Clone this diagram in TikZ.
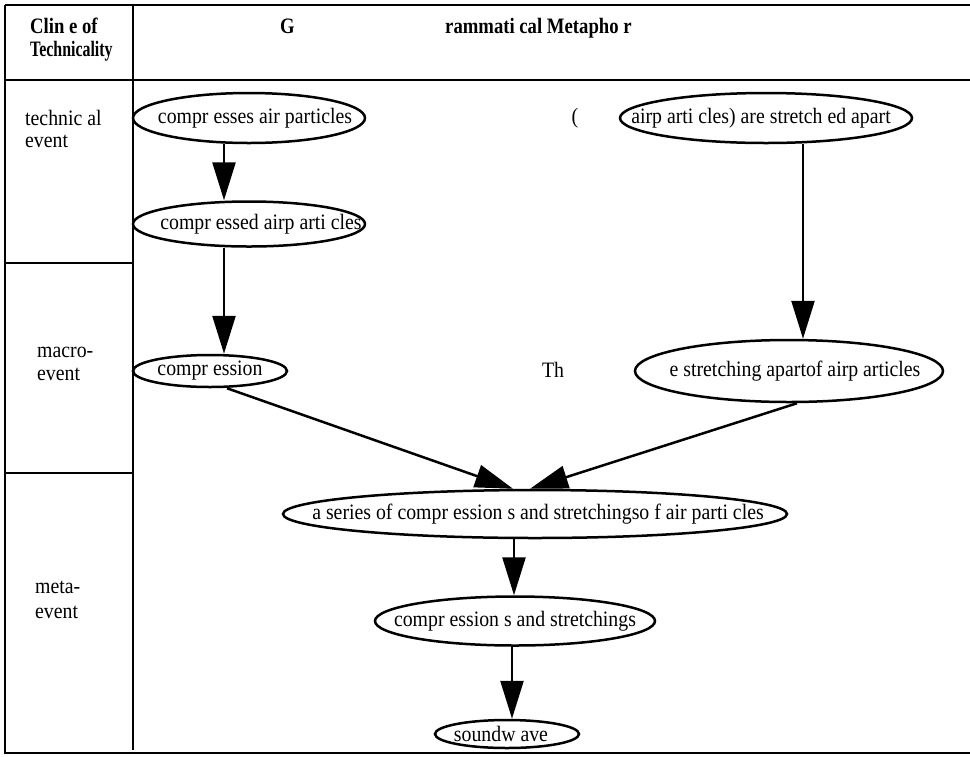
\documentclass[tikz,border=0pt]{standalone}
\usepackage{fontspec}
\usepackage{graphicx}
\setmainfont{Liberation Serif}
\newfontfamily\hdrfont[FakeStretch=0.85]{Liberation Serif}
\newfontfamily\bodyfont[FakeStretch=0.9]{Liberation Serif}
\usetikzlibrary{shapes.geometric,arrows.meta}
\begin{document}
\begin{tikzpicture}[x=1pt,y=-1pt,
  ev/.style={ellipse, draw, line width=2.5pt, inner sep=0pt, font=\bodyfont\fontsize{22}{26}\selectfont},
  conn/.style={line width=2.5pt, -{Triangle[length=38pt,width=23pt]}},
  rulel/.style={line width=2pt},
  lbl/.style={anchor=base west, inner sep=0pt, font=\bodyfont\fontsize{22}{26}\selectfont},
  hdr/.style={anchor=base west, inner sep=0pt, font=\hdrfont\bfseries\fontsize{22}{26}\selectfont},
  loose/.style={inner sep=0pt, font=\bodyfont\fontsize{22}{26}\selectfont}]
\useasboundingbox (0,0) rectangle (970,756);
\fill[white] (0,0) rectangle (970,756);
% table rules
\draw[rulel] (5,5) -- (970,5);
\draw[rulel] (5,5) -- (5,753) -- (970,753);
\draw[rulel] (5,80) -- (970,80);
\draw[rulel] (133,5) -- (133,750);
\draw[rulel] (5,263) -- (133,263);
\draw[rulel] (5,473) -- (133,473);
% header
\node[hdr] (h1) at (30,33) {Clin e of};
\node[hdr] (h2) at (30,56) {\scalebox{0.85}[1]{Technicality}};
\node[hdr] (h3) at (280,33) {G};
\node[hdr] (h4) at (445,33) {rammati cal Metapho r};
% row labels
\node[lbl] (r1a) at (25,125) {technic al};
\node[lbl] (r1b) at (25,147) {event};
\node[lbl] (r2a) at (37,357) {macro-};
\node[lbl] (r2b) at (37,380) {event};
\node[lbl] (r3a) at (35,593) {meta-};
\node[lbl] (r3b) at (35,618) {event};
% ellipses
\node[ev, minimum width=232pt, minimum height=50pt] (e1) at (249,118) {\makebox[0pt]{\hspace{12pt}compr esses air particles}};
\node[ev, minimum width=232pt, minimum height=45pt] (e2) at (249,224) {\makebox[0pt]{\hspace{24pt}compr essed airp arti cles}};
\node[ev, minimum width=154pt, minimum height=32pt] (e3) at (210,371) {\makebox[0pt]{compr ession}};
\node[ev, minimum width=292pt, minimum height=50pt] (e4) at (766,118) {\makebox[0pt]{\hspace{-10pt}airp arti cles) are stretch ed apart}};
\node[ev, minimum width=308pt, minimum height=62pt] (e5) at (789,371) {\makebox[0pt]{\hspace{12pt}e stretching apartof airp articles}};
\node[ev, minimum width=504pt, minimum height=48pt] (e6) at (535,514) {\makebox[0pt]{\hspace{6pt}a series of compr ession s and stretchingso f air parti cles}};
\node[ev, minimum width=280pt, minimum height=49pt] (e7) at (515,621) {\makebox[0pt]{compr ession s and stretchings}};
\node[ev, minimum width=144pt, minimum height=28pt] (e8) at (507,734) {\makebox[0pt]{\hspace{-12pt}soundw ave}};
% loose fragments
\node[loose] (p1) at (575,118) {(};
\node[loose] (p2) at (553,370) {Th};
% connectors
\draw[conn] ([xshift=-25pt]e1.south) -- ([xshift=-25pt]e2.north);
\draw[conn] ([xshift=-25pt]e2.south) -- ([xshift=14pt]e3.north);
\draw[conn] ([xshift=37pt]e4.south) -- ([xshift=14pt]e5.north);
\draw[conn] ([xshift=17pt]e3.south) -- ([xshift=-22pt]e6.north);
\draw[conn] ([xshift=8pt]e5.south) -- ([xshift=-5pt]e6.north);
\draw[conn] ([xshift=-21pt]e6.south) -- ([xshift=-1pt]e7.north);
\draw[conn] ([xshift=-3pt]e7.south) -- ([xshift=5pt]e8.north);
\end{tikzpicture}
\end{document}
